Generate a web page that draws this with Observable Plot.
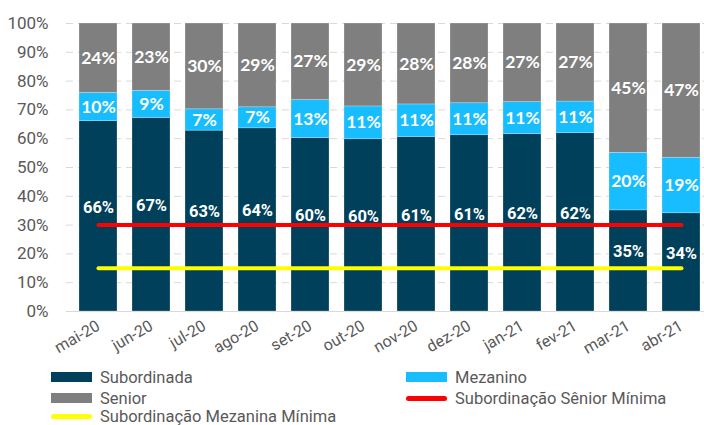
<!DOCTYPE html>
<html><head><meta charset="utf-8">
<script src="https://cdn.jsdelivr.net/npm/d3@7"></script>
<script src="https://cdn.jsdelivr.net/npm/@observablehq/plot@0.6"></script>
<style>
body{margin:0;background:#fff;}
#chart{width:704px;height:425px;overflow:hidden;position:relative;font-family:Roboto,"Liberation Sans",sans-serif;}
#chart svg{display:block;}
.legend{position:relative;height:63px;}
.item{position:absolute;display:flex;align-items:center;font-size:16.5px;color:#595959;height:20px;white-space:nowrap;}
.sw{width:41px;height:10px;margin-right:8px;}
.ln{width:41px;height:5px;border-radius:3px;margin-right:8px;}
</style></head><body><div id="chart"></div>
<script>
const months = ["mai-20","jun-20","jul-20","ago-20","set-20","out-20","nov-20","dez-20","jan-21","fev-21","mar-21","abr-21"];
const subordinada = [66.1, 67.2, 62.8, 63.6, 60.2, 59.8, 60.6, 61.2, 61.6, 61.9, 35.1, 34.1];
const mezanino    = [ 9.8,  9.4,  7.4,  7.3, 13.2, 11.4, 11.3, 11.1, 11.1, 11.0, 20.0, 19.3];
const senior      = [24.1, 23.4, 29.8, 29.1, 26.6, 28.8, 28.1, 27.7, 27.3, 27.1, 44.9, 46.6];
const minSenior = 30;    // Subordinação Sênior Mínima
const minMezanino = 15;  // Subordinação Mezanina Mínima
const yTicks = [0,10,20,30,40,50,60,70,80,90,100];
const series = ["Subordinada","Mezanino","Senior"];
const colors = ["#00405A","#17BDFE","#7F7F7F"];
const narrow = 'Roboto,"Liberation Sans",sans-serif';
const lato = 'Lato,"Open Sans",sans-serif';

const data = months.flatMap((m,i)=>[
  {month:m, series:"Subordinada", value:subordinada[i]},
  {month:m, series:"Mezanino", value:mezanino[i]},
  {month:m, series:"Senior", value:senior[i]}
]);
const pct = d => Math.round(d.value) + "%";

const plot = Plot.plot({
  width:704, height:362, marginTop:23, marginBottom:51, marginLeft:66, marginRight:0,
  style:{fontFamily:narrow, background:"transparent", overflow:"visible"},
  x:{domain:months, range:[66,712], paddingInner:0.29, paddingOuter:0.15, label:null},
  y:{domain:[0,100], label:null},
  color:{domain:series, range:colors},
  marks:[
    Plot.gridY(yTicks.slice(1), {stroke:"#d9d9d9", strokeOpacity:1, strokeDasharray:"7,5"}),
    Plot.ruleY([0], {stroke:"#d9d9d9", strokeWidth:1.2}),
    Plot.barY(data, {x:"month", y:"value", fill:"series", order:series, stroke:"#ffffff", strokeOpacity:0.4, strokeWidth:0.6}),
    Plot.lineY(months, {x:d=>d, y:()=>minMezanino, stroke:"#ffff00", strokeWidth:4, strokeLinecap:"round"}),
    Plot.lineY(months, {x:d=>d, y:()=>minSenior, stroke:"#ff0000", strokeWidth:4, strokeLinecap:"round"}),
    Plot.text(data, Plot.stackY({x:"month", y:"value", z:"series", order:series,
      text:d=>d.series==="Subordinada"?pct(d):null, fill:"white", fontWeight:"bold", fontSize:16.5, fontFamily:narrow, dy:-9})),
    Plot.text(data, Plot.stackY({x:"month", y:"value", z:"series", order:series,
      text:d=>d.series!=="Subordinada"?pct(d):null, fill:"white", fontWeight:"bold", fontSize:17.5, fontFamily:lato})),
    Plot.axisY(yTicks, {tickFormat:d=>d+"%", tickSize:0, tickPadding:18, fontSize:17, fill:"#595959", label:null}),
    Plot.axisX({tickRotate:-30, tickSize:0, tickPadding:13, fontSize:16, fill:"#595959", label:null})
  ]
});
const chart = document.getElementById("chart");
chart.appendChild(plot);

const legend = document.createElement("div");
legend.className = "legend";
const items = [
  {label:"Subordinada", color:colors[0], type:"sw", left:51, top:5},
  {label:"Mezanino", color:colors[1], type:"sw", left:406, top:5},
  {label:"Senior", color:colors[2], type:"sw", left:51, top:26},
  {label:"Subordinação Sênior Mínima", color:"#ff0000", type:"ln", left:406, top:26},
  {label:"Subordinação Mezanina Mínima", color:"#ffff00", type:"ln", left:51, top:44}
];
for (const it of items) {
  const d = document.createElement("div");
  d.className = "item";
  d.style.left = it.left + "px"; d.style.top = it.top + "px";
  const s = document.createElement("span");
  s.className = it.type; s.style.background = it.color;
  const t = document.createElement("span");
  t.textContent = it.label;
  d.appendChild(s); d.appendChild(t);
  legend.appendChild(d);
}
chart.appendChild(legend);
</script></body></html>
